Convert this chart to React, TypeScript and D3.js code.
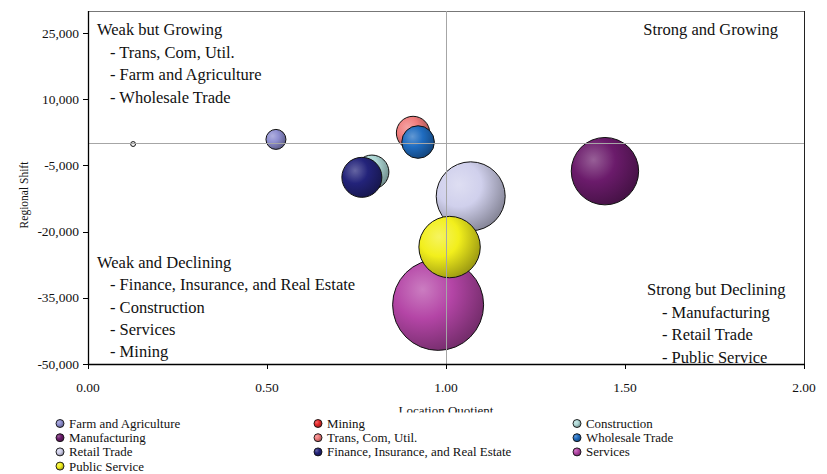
import React from "react";
import * as d3 from "d3";

const sectors = [
  "Farm and Agriculture",
  "Mining",
  "Construction",
  "Manufacturing",
  "Trans, Com, Util.",
  "Wholesale Trade",
  "Retail Trade",
  "Finance, Insurance, and Real Estate",
  "Services",
  "Public Service",
];
const locationQuotient = [0.525, 0.126, 0.793, 1.444, 0.908, 0.922, 1.069, 0.765, 0.978, 1.01];
const regionalShift = [900, -150, -6500, -6300, 2350, 300, -12000, -7700, -36600, -23500];
const employment = [2000, 120, 5780, 22700, 5580, 5310, 23800, 8000, 41400, 18850];
const colors = [
  "#8e8ed0",
  "#e8282a",
  "#b0dad8",
  "#6b1b6b",
  "#f07c7c",
  "#1f6cc0",
  "#d0d0ec",
  "#23237a",
  "#b445a6",
  "#f2ef1c",
];

const yTicks = [-50000, -35000, -20000, -5000, 10000, 25000];
const xTicks = [0, 0.5, 1, 1.5, 2];

const quadWG = ["Weak but Growing", "- Trans, Com, Util.", "- Farm and Agriculture", "- Wholesale Trade"];
const quadSG = ["Strong and Growing"];
const quadWD = ["Weak and Declining", "- Finance, Insurance, and Real Estate", "- Construction", "- Services", "- Mining"];
const quadSD = ["Strong but Declining", "- Manufacturing", "- Retail Trade", "- Public Service"];

const W = 827;
const H = 474;
const L = 88;
const R = 804;
const T = 11;
const B = 364;
const FONT = "'Liberation Serif', 'Times New Roman', serif";

export default function App() {
  const x = d3.scaleLinear().domain([0, 2]).range([L, R]);
  const y = d3.scaleLinear().domain([-50000, 30000]).range([B, T]);
  const rScale = d3.scaleSqrt().domain([0, d3.max(employment) as number]).range([0, 45.5]);
  const fmtY = (v: number) => d3.format(",")(v).replace("\u2212", "-");
  const fmtX = d3.format(".2f");

  const stops = (c: string) => {
    const base = d3.color(c)!;
    const light = d3.interpolateRgb(c, "#ffffff")(0.3);
    const dark = d3.interpolateRgb(c, "#000000")(0.35);
    return [
      { o: "0%", c: light },
      { o: "45%", c: base.formatHex() },
      { o: "100%", c: dark },
    ];
  };

  const lineH = 22.5;
  const textStyle = { fontFamily: FONT, fontSize: 16.5, fill: "#111" } as const;

  const quad = (lines: string[], x0: number, xi: number, y0: number, gap: number) =>
    lines.map((t, i) => (
      <text key={t} x={i === 0 ? x0 : xi} y={y0 + i * gap} style={textStyle}>
        {t}
      </text>
    ));

  const legendCols = [60, 318, 577];
  const legendRow0 = 423.5;
  const legendRowH = 14.2;

  return (
    <svg
      width={W}
      height={H}
      style={{ position: "absolute", left: 0, top: 0, background: "#fff" }}
      fontFamily={FONT}
    >
      <defs>
        {colors.map((c, i) => (
          <radialGradient key={i} id={`g${i}`} cx="0.33" cy="0.33" fx="0.33" fy="0.33" r="0.72">
            {stops(c).map((s) => (
              <stop key={s.o} offset={s.o} stopColor={s.c} />
            ))}
          </radialGradient>
        ))}
      </defs>
      <rect x={0} y={0} width={W} height={H} fill="#fff" />

      {/* plot frame */}
      <line x1={L} x2={R} y1={T + 0.5} y2={T + 0.5} stroke="#777" strokeWidth={1} />
      <line x1={R + 0.5} x2={R + 0.5} y1={T} y2={B} stroke="#222" strokeWidth={1} />

      {/* bubbles */}
      {sectors.map((s, i) => (
        <circle
          key={s}
          cx={x(locationQuotient[i])}
          cy={y(regionalShift[i])}
          r={rScale(employment[i])}
          fill={i === 1 ? "#f4f4f4" : `url(#g${i})`}
          stroke="#111"
          strokeWidth={1}
        />
      ))}

      {/* reference lines */}
      <line x1={L} x2={R} y1={Math.round(y(0)) + 0.5} y2={Math.round(y(0)) + 0.5} stroke="#a6a6a6" strokeWidth={1} />
      <line x1={Math.round(x(1)) + 0.5} x2={Math.round(x(1)) + 0.5} y1={T} y2={B} stroke="#a6a6a6" strokeWidth={1} />

      {/* axes */}
      <line x1={L + 0.5} x2={L + 0.5} y1={T} y2={B + 1} stroke="#000" strokeWidth={1.3} />
      <line x1={L} x2={R + 1} y1={B + 0.5} y2={B + 0.5} stroke="#000" strokeWidth={1.3} />
      {yTicks.map((v) => (
        <g key={v}>
          <line x1={L - 5} x2={L} y1={Math.round(y(v)) + 0.5} y2={Math.round(y(v)) + 0.5} stroke="#000" />
          <text x={L - 9} y={y(v) + 4.5} textAnchor="end" fontSize={13.5} fill="#111">
            {fmtY(v)}
          </text>
        </g>
      ))}
      {xTicks.map((v) => (
        <g key={v}>
          <line x1={Math.round(x(v)) + 0.5} x2={Math.round(x(v)) + 0.5} y1={B} y2={B + 5} stroke="#000" />
          <text x={x(v)} y={392} textAnchor="middle" fontSize={13.5} fill="#111">
            {fmtX(v)}
          </text>
        </g>
      ))}
      <text
        transform={`translate(28,195) rotate(-90)`}
        textAnchor="middle"
        fontSize={11.5}
        fill="#111"
      >
        Regional Shift
      </text>
      <text x={(L + R) / 2} y={414.5} textAnchor="middle" fontSize={13} fill="#111">
        Location Quotient
      </text>

      {/* quadrant labels */}
      {quad(quadWG, 97, 110, 35, lineH)}
      <text x={778} y={35} textAnchor="end" style={textStyle}>
        {quadSG[0]}
      </text>
      {quad(quadWD, 97, 110, 268, 22.3)}
      {quad(quadSD, 647, 662, 295, 22.7)}

      {/* legend */}
      <rect x={40} y={412.5} width={770} height={62} fill="#fff" />
      {sectors.map((s, i) => {
        const col = i % 3;
        const row = Math.floor(i / 3);
        const cx = legendCols[col];
        const cy = legendRow0 + row * legendRowH;
        return (
          <g key={s}>
            <circle cx={cx} cy={cy} r={4} fill={`url(#g${i})`} stroke="#111" strokeWidth={0.9} />
            <g transform={`translate(${cx + 9},${cy + 4.5}) scale(1.05,1)`}>
              <text x={0} y={0} fontSize={12.3} fill="#111">
                {s}
              </text>
            </g>
          </g>
        );
      })}
    </svg>
  );
}
